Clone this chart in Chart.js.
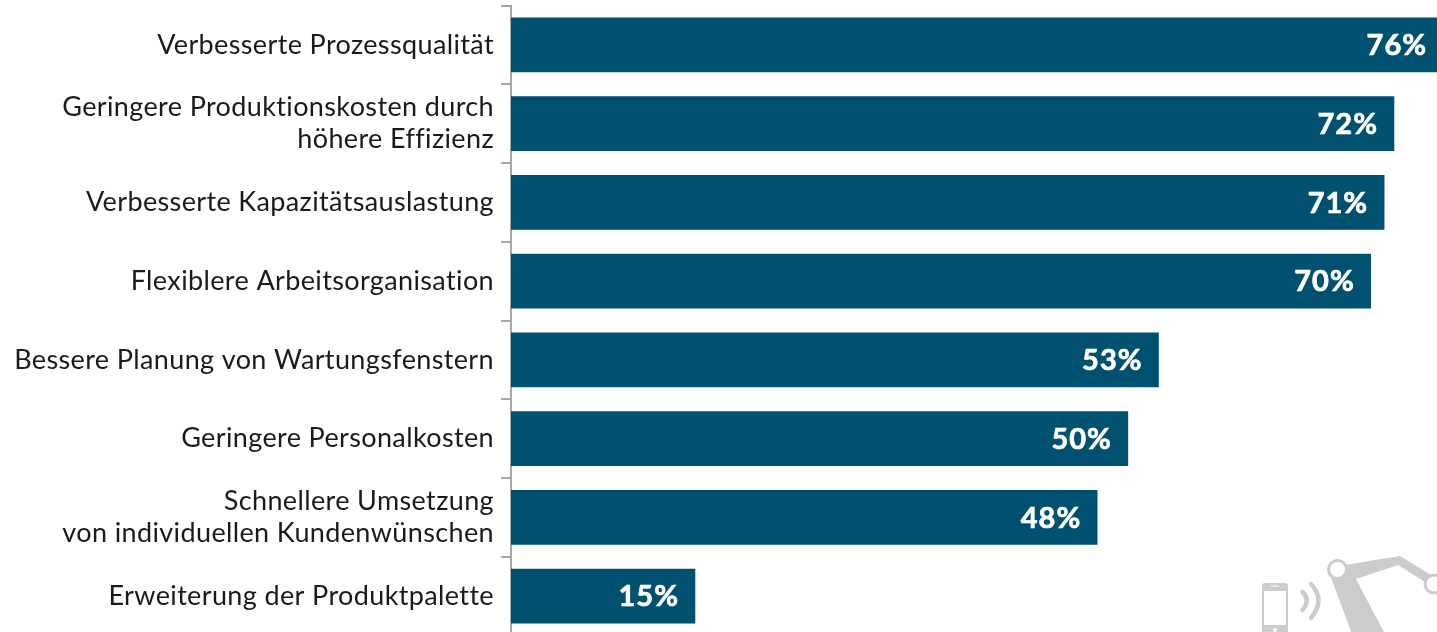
<!DOCTYPE html>
<html lang="de">
<head>
<meta charset="utf-8">
<title>Vorteile</title>
<script src="https://cdn.jsdelivr.net/npm/chart.js@4"></script>
<style>
    html, body { margin: 0; padding: 0; background: #fff; overflow: hidden; }
    #wrap { width: 1437px; height: 632px; overflow: hidden; }
    canvas { display: block; }
</style>
</head>
<body>
<div id="wrap"><canvas id="grafico" width="1443" height="640"></canvas></div>
<script>
const kategorien = [
    'Verbesserte Prozessqualität',
    ['Geringere Produktionskosten durch', 'höhere Effizienz'],
    'Verbesserte Kapazitätsauslastung',
    'Flexiblere Arbeitsorganisation',
    'Bessere Planung von Wartungsfenstern',
    'Geringere Personalkosten',
    ['Schnellere Umsetzung', 'von individuellen Kundenwünschen'],
    'Erweiterung der Produktpalette'
];
// Balkenlaengen aus dem Bild gelesen, die Beschriftung ist gerundet
const werte = [76, 72, 71.2, 70.1, 52.8, 50.3, 47.8, 15];

const schrift = 'Lato, "Open Sans", sans-serif';

// Laufweite der Achsenbeschriftung (schaltet auch die Ligaturen ab)
const laufweite = {
    id: 'laufweite',
    beforeDraw(chart) {
        chart.ctx.letterSpacing = '0.37px';
    }
};

// Prozentwerte in den Balken
const wertLabels = {
    id: 'wertLabels',
    afterDatasetsDraw(chart) {
        const ctx = chart.ctx;
        ctx.save();
        ctx.font = 'bold 29px ' + schrift;
        ctx.letterSpacing = '1px';
        ctx.fillStyle = '#ffffff';
        ctx.strokeStyle = '#ffffff';
        ctx.lineWidth = 0.7;
        ctx.textAlign = 'right';
        ctx.textBaseline = 'middle';
        chart.getDatasetMeta(0).data.forEach((bar, i) => {
            const text = Math.round(werte[i]) + '%';
            ctx.fillText(text, bar.x - 16, bar.y + 1);
            ctx.strokeText(text, bar.x - 16, bar.y + 1); // etwas fetter als Lato Bold
        });
        ctx.restore();
    }
};

// Wasserzeichen unten rechts (Handy + Roboterarm)
const wasserzeichen = {
    id: 'wasserzeichen',
    afterDraw(chart) {
        const ctx = chart.ctx;
        ctx.save();
        ctx.fillStyle = '#cccccc';
        ctx.strokeStyle = '#cccccc';

        // Handy
        ctx.beginPath();
        ctx.roundRect(1262, 583, 26, 60, 3);
        ctx.fill();
        ctx.fillStyle = '#ffffff';
        ctx.fillRect(1264, 591, 22, 34);
        ctx.fillRect(1271, 585.5, 8, 1);
        ctx.beginPath();
        ctx.arc(1275, 630, 2, 0, Math.PI * 2);
        ctx.fill();

        // Funkwellen
        ctx.lineWidth = 4.5;
        ctx.lineCap = 'round';
        ctx.beginPath();
        ctx.moveTo(1302.5, 592);
        ctx.quadraticCurveTo(1311, 600, 1302.5, 610);
        ctx.stroke();
        ctx.beginPath();
        ctx.moveTo(1311, 584);
        ctx.quadraticCurveTo(1326, 600, 1311, 618);
        ctx.stroke();

        // Roboterarm
        ctx.fillStyle = '#cccccc';
        ctx.beginPath();
        ctx.moveTo(1330, 575);
        ctx.lineTo(1352, 634);
        ctx.lineTo(1385, 634);
        ctx.lineTo(1356, 579);
        ctx.lineTo(1398, 565);
        ctx.lineTo(1425, 582);
        ctx.lineTo(1431, 575);
        ctx.lineTo(1400, 556);
        ctx.lineTo(1345, 565);
        ctx.closePath();
        ctx.fill();
        [[1337.5, 569.5], [1434, 584]].forEach(p => {
            ctx.fillStyle = '#cccccc';
            ctx.beginPath();
            ctx.arc(p[0], p[1], 10.5, 0, Math.PI * 2);
            ctx.fill();
            ctx.fillStyle = '#ffffff';
            ctx.beginPath();
            ctx.arc(p[0], p[1], 7.5, 0, Math.PI * 2);
            ctx.fill();
        });
        ctx.restore();
    }
};

new Chart(document.getElementById('grafico').getContext('2d'), {
    type: 'bar',
    data: {
        labels: kategorien,
        datasets: [{
            data: werte,
            backgroundColor: '#00506f',
            barThickness: 54
        }]
    },
    options: {
        indexAxis: 'y',
        responsive: false,
        animation: false,
        layout: { padding: { top: 5.5, bottom: 4.5, left: 0, right: 0 } },
        plugins: { legend: { display: false }, tooltip: { enabled: false } },
        scales: {
            x: { display: false, min: 0, max: 76 },
            y: {
                afterFit: scale => {
                    scale.width = 511;
                    scale.paddingTop = 0;
                    scale.paddingBottom = 0;
                },
                grid: {
                    offset: true,
                    drawOnChartArea: false,
                    drawTicks: true,
                    tickLength: 10,
                    color: '#a6a6a6',
                    lineWidth: 2
                },
                border: { display: true, color: '#a6a6a6', width: 2 },
                ticks: {
                    color: '#1a1a1a',
                    padding: 7,
                    autoSkip: false,
                    font: { family: schrift, size: 27, lineHeight: 1.19 }
                }
            }
        }
    },
    plugins: [laufweite, wertLabels, wasserzeichen]
});
</script>
</body>
</html>
